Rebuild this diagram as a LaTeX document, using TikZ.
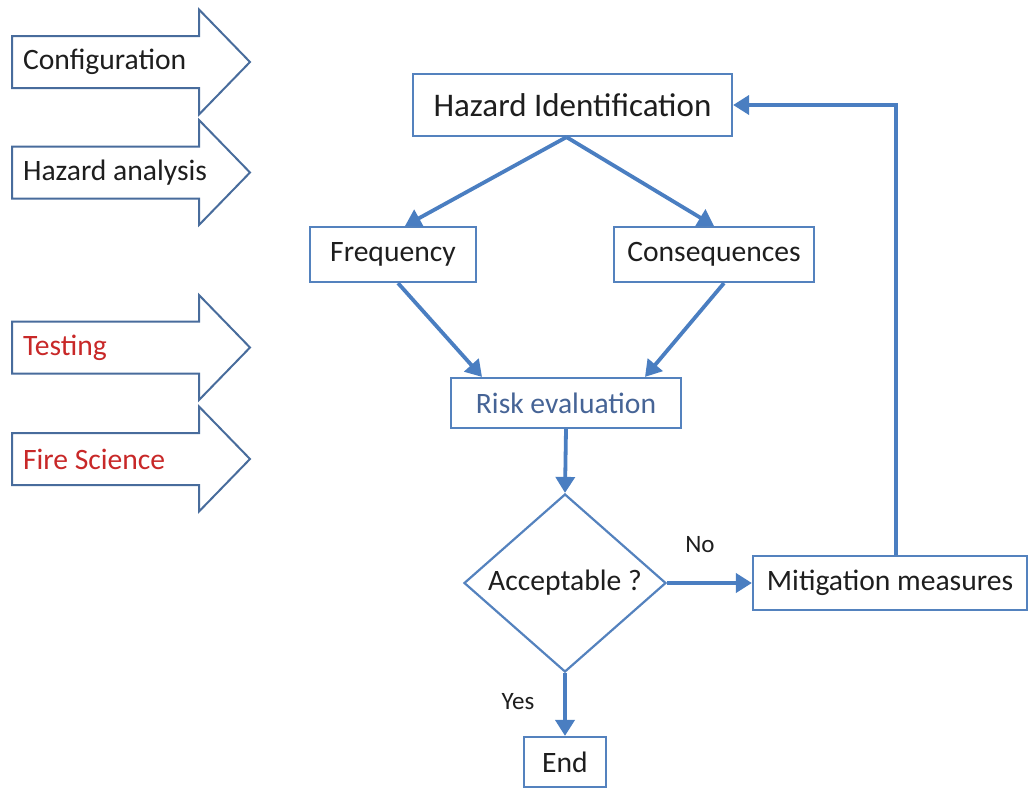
\documentclass[tikz,border=0pt]{standalone}
\usepackage{fontspec}
\setmainfont{Carlito}
\usepackage{tikz}
\usepackage{xcolor}
\usetikzlibrary{arrows.meta,shapes.geometric}
\definecolor{flowblue}{RGB}{74,126,193}
\definecolor{boxblue}{RGB}{84,130,190}
\definecolor{inputblue}{RGB}{72,108,156}
\definecolor{labelred}{RGB}{200,40,40}
\definecolor{riskblue}{RGB}{70,100,150}
\definecolor{textgray}{RGB}{30,30,30}

\begin{document}
\begin{tikzpicture}[x=0.5pt,y=-0.5pt,
  every node/.style={font=\fontsize{14.8}{17}\selectfont,text=textgray},
  box/.style={draw=boxblue,line width=1.1pt,inner sep=0pt,minimum height=27.5pt},
  flow/.style={draw=flowblue,line width=1.9pt,-{Triangle[length=8pt,width=9.5pt]}},
  inputarrow/.style={draw=inputblue,line width=1pt,line join=miter}]

\useasboundingbox (0,0) rectangle (1029,788);

% input arrows on the left
\foreach \cy/\nm/\txt/\col in {62/conf/Configuration/textgray,172.5/hazan/Hazard analysis/textgray,347.5/test/Testing/labelred,459/fire/Fire Science/labelred}{
  \draw[inputarrow] (12,\cy-26) -- (199,\cy-26) -- (199,\cy-52.5) -- (250,\cy) -- (199,\cy+52.5) -- (199,\cy+26) -- (12,\cy+26) -- cycle;
  \node[anchor=west,text=\col] (\nm) at (16,\cy) {\txt};
}

% flowchart
\node[box,minimum width=159.5pt,minimum height=31pt,font=\fontsize{16.5}{19}\selectfont] (hazid) at (572.5,105) {Hazard Identification};
\node[box,minimum width=83pt] (freq) at (393,254.5) {Frequency};
\node[box,minimum width=100pt] (cons) at (714,254.5) {Consequences};
\node[box,minimum width=115pt,minimum height=25pt,text=riskblue] (risk) at (566,403) {Risk evaluation};
\node[draw=boxblue,line width=1.1pt,diamond,aspect=1.1,inner sep=0pt,minimum width=101pt,minimum height=89pt] (accept) at (565,583) {Acceptable ?};
\node[box,minimum width=137pt,minimum height=27pt] (mitig) at (890,583) {Mitigation measures};
\node[box,minimum width=41pt,minimum height=25pt] (end) at (565,762) {End};

\node[font=\fontsize{12.5}{15}\selectfont] (no) at (700,545) {No};
\node[font=\fontsize{12.5}{15}\selectfont] (yes) at (518,702) {Yes};

\draw[flow] ([xshift=-3pt]hazid.south) -- ([xshift=6pt]freq.north);
\draw[flow] ([xshift=-3pt]hazid.south) -- (cons.north);
\draw[flow] ([xshift=2.5pt]freq.south) -- ([xshift=-42pt]risk.north);
\draw[flow] ([xshift=5pt]cons.south) -- ([xshift=39.5pt]risk.north);
\draw[flow] (risk.south) -- (accept.north);
\draw[flow] (accept.east) -- (mitig.west);
\draw[flow] (accept.south) -- (end.north);
\draw[flow] ([xshift=3pt]mitig.north) |- (hazid.east);
\end{tikzpicture}
\end{document}
